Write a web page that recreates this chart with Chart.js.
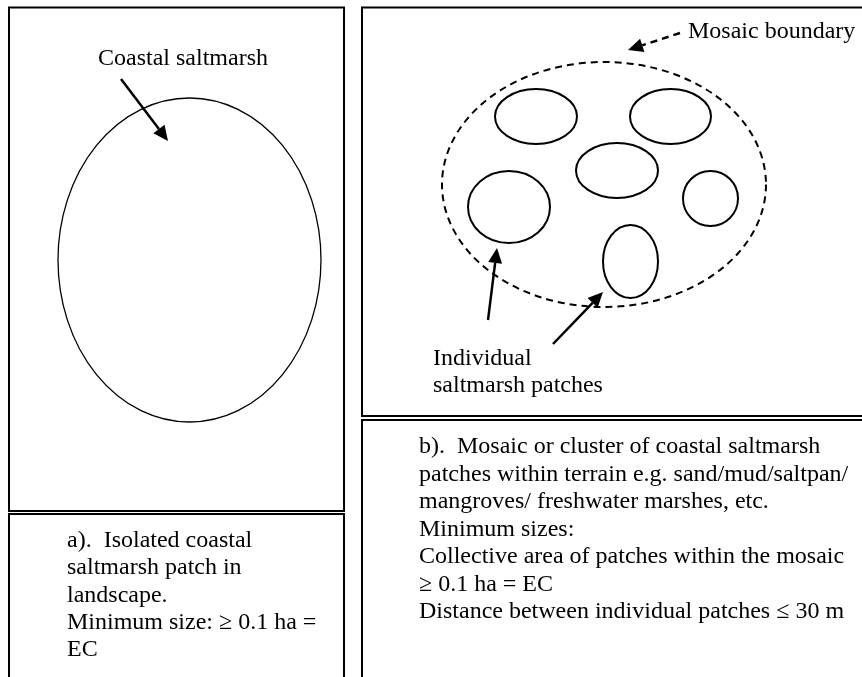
<!DOCTYPE html>
<html>
<head>
<meta charset="utf-8">
<script src="https://cdn.jsdelivr.net/npm/chart.js@4/dist/chart.umd.min.js"></script>
<style>
  html, body { margin: 0; padding: 0; background: #fff; }
</style>
</head>
<body>
<canvas id="diagram" width="862" height="677"></canvas>
<script>
// panel frames (diagram units = pixels of the original figure)
const boxLeft = [9, 9, 362, 362];
const boxTop = [7.5, 514, 7.5, 420];
const boxRight = [344, 344, 875, 875];
const boxBottom = [511, 690, 416, 690];

// a) isolated saltmarsh patch
const marshX = [189.5];
const marshY = [260];
const marshRX = [131.5];
const marshRY = [162];

// b) mosaic boundary
const mosaicX = [604];
const mosaicY = [184.5];
const mosaicRX = [162];
const mosaicRY = [122.5];

// b) individual patches
const patchX = [536, 670.5, 617, 509, 710.5, 630.5];
const patchY = [116.5, 116.5, 170.5, 207, 198.5, 261.5];
const patchRX = [41, 40.5, 41, 41, 27.5, 27.5];
const patchRY = [27.5, 27.5, 27.5, 36, 27.5, 36.5];

// arrows: tail -> tip
const arrowFromX = [121, 680, 488, 553];
const arrowFromY = [79, 33, 320, 344];
const arrowToX = [168, 628, 497, 603];
const arrowToY = [141, 50, 248, 292];
const arrowDashed = [false, true, false, false];

const labelA = ['Coastal saltmarsh'];
const labelB = ['Mosaic boundary'];
const labelPatches = ['Individual', 'saltmarsh patches'];
const captionA = ['a).  Isolated coastal', 'saltmarsh patch in', 'landscape.', 'Minimum size: \u2265 0.1 ha =', 'EC'];
const captionB = [
  'b).  Mosaic or cluster of coastal saltmarsh',
  'patches within terrain e.g. sand/mud/saltpan/',
  'mangroves/ freshwater marshes, etc.',
  'Minimum sizes:',
  'Collective area of patches within the mosaic',
  '\u2265 0.1 ha = EC',
  'Distance between individual patches \u2264 30 m'
];

const FONT = '24px "Liberation Serif", "Times New Roman", serif';

function drawEllipses(ctx, xs, ys, rxs, rys, sx, sy, width, dash) {
  ctx.save();
  ctx.lineWidth = width;
  ctx.strokeStyle = '#000';
  ctx.setLineDash(dash || []);
  xs.forEach((x, i) => {
    const cx = sx.getPixelForValue(x);
    const cy = sy.getPixelForValue(ys[i]);
    const rx = Math.abs(sx.getPixelForValue(x + rxs[i]) - cx);
    const ry = Math.abs(sy.getPixelForValue(ys[i] + rys[i]) - cy);
    ctx.beginPath();
    ctx.ellipse(cx, cy, rx, ry, 0, 0, Math.PI * 2);
    ctx.stroke();
  });
  ctx.restore();
}

function drawText(ctx, lines, x, y, step, align) {
  ctx.save();
  ctx.font = FONT;
  ctx.fillStyle = '#000';
  ctx.textAlign = align || 'left';
  ctx.textBaseline = 'alphabetic';
  lines.forEach((t, i) => ctx.fillText(t, x, y + i * step));
  ctx.restore();
}

const diagramPlugin = {
  id: 'diagram',
  afterDraw(chart) {
    const ctx = chart.ctx;
    const sx = chart.scales.x;
    const sy = chart.scales.y;

    // frames
    ctx.save();
    ctx.strokeStyle = '#000';
    ctx.lineWidth = 2;
    boxLeft.forEach((l, i) => {
      const x0 = sx.getPixelForValue(l);
      const y0 = sy.getPixelForValue(boxTop[i]);
      const x1 = sx.getPixelForValue(boxRight[i]);
      const y1 = sy.getPixelForValue(boxBottom[i]);
      ctx.strokeRect(x0, y0, x1 - x0, y1 - y0);
    });
    ctx.restore();

    drawEllipses(ctx, marshX, marshY, marshRX, marshRY, sx, sy, 1.3);
    drawEllipses(ctx, mosaicX, mosaicY, mosaicRX, mosaicRY, sx, sy, 2, [7, 5]);
    drawEllipses(ctx, patchX, patchY, patchRX, patchRY, sx, sy, 2);

    // arrows
    arrowFromX.forEach((fx, i) => {
      const x0 = sx.getPixelForValue(fx);
      const y0 = sy.getPixelForValue(arrowFromY[i]);
      const x1 = sx.getPixelForValue(arrowToX[i]);
      const y1 = sy.getPixelForValue(arrowToY[i]);
      const ang = Math.atan2(y1 - y0, x1 - x0);
      const headLen = 15, headW = 7;
      const bx = x1 - Math.cos(ang) * headLen;
      const by = y1 - Math.sin(ang) * headLen;
      ctx.save();
      ctx.strokeStyle = '#000';
      ctx.fillStyle = '#000';
      ctx.lineWidth = 2.5;
      ctx.setLineDash(arrowDashed[i] ? [7, 5] : []);
      ctx.beginPath();
      ctx.moveTo(x0, y0);
      ctx.lineTo(bx, by);
      ctx.stroke();
      ctx.setLineDash([]);
      ctx.beginPath();
      ctx.moveTo(x1, y1);
      ctx.lineTo(bx + Math.sin(ang) * headW, by - Math.cos(ang) * headW);
      ctx.lineTo(bx - Math.sin(ang) * headW, by + Math.cos(ang) * headW);
      ctx.closePath();
      ctx.fill();
      ctx.restore();
    });

    drawText(ctx, labelA, 98, 65, 27);
    drawText(ctx, labelB, 688, 38, 27);
    drawText(ctx, labelPatches, 433, 365, 26.5);
    drawText(ctx, captionA, 67, 547, 27.3);
    drawText(ctx, captionB, 419, 453, 27.5);
  }
};

new Chart(document.getElementById('diagram'), {
  type: 'scatter',
  data: { datasets: [{ data: [], pointRadius: 0 }] },
  options: {
    responsive: false,
    devicePixelRatio: 1,
    animation: false,
    layout: { padding: 0 },
    plugins: { legend: { display: false }, tooltip: { enabled: false } },
    scales: {
      x: { type: 'linear', min: 0, max: 862, display: false },
      y: { type: 'linear', min: 0, max: 677, reverse: true, display: false }
    }
  },
  plugins: [diagramPlugin]
});
</script>
</body>
</html>
